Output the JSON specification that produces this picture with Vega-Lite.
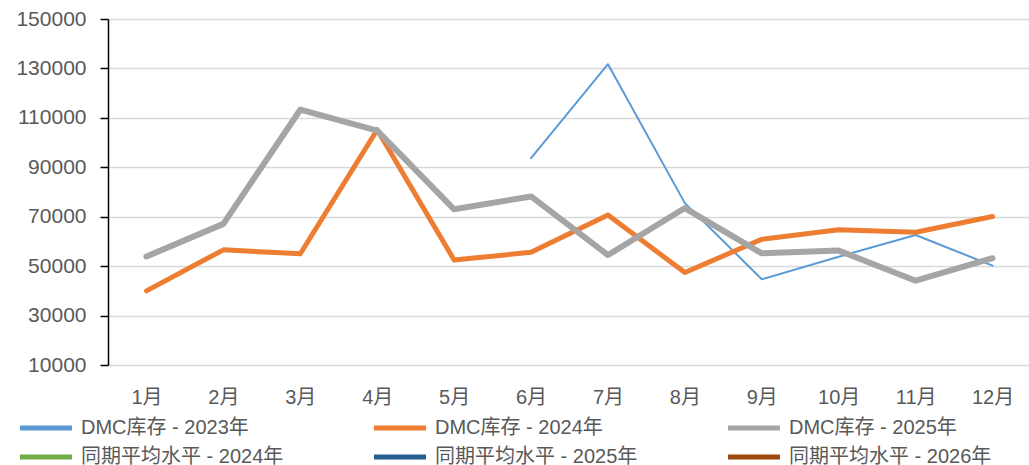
{
  "$schema": "https://vega.github.io/schema/vega-lite/v6.json",
  "autosize": {"type": "none"},
  "padding": {"left": 108, "top": 19, "right": 0, "bottom": 100},
  "width": 923,
  "height": 346,
  "background": "white",
  "config": {
    "view": {"stroke": null},
    "font": "Liberation Sans, Noto Sans CJK SC"
  },
  "data": {
    "values": [
      {"month": "6月", "series": "DMC库存 - 2023年", "value": 93700},
      {"month": "7月", "series": "DMC库存 - 2023年", "value": 131700},
      {"month": "8月", "series": "DMC库存 - 2023年", "value": 75500},
      {"month": "9月", "series": "DMC库存 - 2023年", "value": 44700},
      {"month": "10月", "series": "DMC库存 - 2023年", "value": 53800},
      {"month": "11月", "series": "DMC库存 - 2023年", "value": 62600},
      {"month": "12月", "series": "DMC库存 - 2023年", "value": 50200},
      {"month": "1月", "series": "DMC库存 - 2024年", "value": 40000},
      {"month": "2月", "series": "DMC库存 - 2024年", "value": 56600},
      {"month": "3月", "series": "DMC库存 - 2024年", "value": 55000},
      {"month": "4月", "series": "DMC库存 - 2024年", "value": 105200},
      {"month": "5月", "series": "DMC库存 - 2024年", "value": 52500},
      {"month": "6月", "series": "DMC库存 - 2024年", "value": 55600},
      {"month": "7月", "series": "DMC库存 - 2024年", "value": 70700},
      {"month": "8月", "series": "DMC库存 - 2024年", "value": 47400},
      {"month": "9月", "series": "DMC库存 - 2024年", "value": 60900},
      {"month": "10月", "series": "DMC库存 - 2024年", "value": 64700},
      {"month": "11月", "series": "DMC库存 - 2024年", "value": 63700},
      {"month": "12月", "series": "DMC库存 - 2024年", "value": 70100},
      {"month": "1月", "series": "DMC库存 - 2025年", "value": 53900},
      {"month": "2月", "series": "DMC库存 - 2025年", "value": 67100},
      {"month": "3月", "series": "DMC库存 - 2025年", "value": 113300},
      {"month": "4月", "series": "DMC库存 - 2025年", "value": 104800},
      {"month": "5月", "series": "DMC库存 - 2025年", "value": 73000},
      {"month": "6月", "series": "DMC库存 - 2025年", "value": 78200},
      {"month": "7月", "series": "DMC库存 - 2025年", "value": 54500},
      {"month": "8月", "series": "DMC库存 - 2025年", "value": 73500},
      {"month": "9月", "series": "DMC库存 - 2025年", "value": 55200},
      {"month": "10月", "series": "DMC库存 - 2025年", "value": 56300},
      {"month": "11月", "series": "DMC库存 - 2025年", "value": 44100},
      {"month": "12月", "series": "DMC库存 - 2025年", "value": 53200}
    ]
  },
  "mark": {"type": "line", "strokeCap": "round", "strokeJoin": "round"},
  "encoding": {
    "x": {
      "field": "month",
      "type": "ordinal",
      "sort": ["1月","2月","3月","4月","5月","6月","7月","8月","9月","10月","11月","12月"],
      "scale": {"type": "point", "padding": 0.5},
      "axis": {
        "title": null,
        "domain": false,
        "ticks": false,
        "grid": false,
        "labelAngle": 0,
        "labelFontSize": 20,
        "labelColor": "#595959",
        "labelPadding": 22,
        "labelBaseline": "top"
      }
    },
    "y": {
      "field": "value",
      "type": "quantitative",
      "scale": {"domain": [10000, 150000], "nice": false, "zero": false},
      "axis": {
        "title": null,
        "format": "d",
        "values": [10000, 30000, 50000, 70000, 90000, 110000, 130000, 150000],
        "domain": true,
        "domainColor": "#000000",
        "domainWidth": 1.5,
        "ticks": true,
        "tickColor": "#000000",
        "tickSize": 8,
        "tickWidth": 1.5,
        "grid": true,
        "gridColor": "#D9D9D9",
        "gridWidth": 1.5,
        "labelFontSize": 21,
        "labelColor": "#595959",
        "labelPadding": 14
      }
    },
    "color": {
      "field": "series",
      "type": "nominal",
      "scale": {
        "domain": ["DMC库存 - 2023年", "DMC库存 - 2024年", "DMC库存 - 2025年", "同期平均水平 - 2024年", "同期平均水平 - 2025年", "同期平均水平 - 2026年"],
        "range": ["#5B9BD5", "#ED7D31", "#A5A5A5", "#70AD47", "#255E91", "#9E480E"]
      },
      "legend": {
        "title": null,
        "orient": "none",
        "legendX": -72,
        "legendY": 399,
        "direction": "horizontal",
        "columns": 3,
        "gridAlign": "all",
        "columnPadding": 80,
        "rowPadding": 9,
        "symbolType": "M-4,0H4",
        "symbolSize": 169,
        "symbolStrokeWidth": 5,
        "symbolStrokeCap": "round",
        "labelFontSize": 20,
        "labelColor": "#595959",
        "labelOffset": 25,
        "labelLimit": 400
      }
    },
    "strokeWidth": {
      "field": "series",
      "type": "nominal",
      "scale": {
        "type": "ordinal",
        "domain": ["DMC库存 - 2023年", "DMC库存 - 2024年", "DMC库存 - 2025年"],
        "range": [2, 5, 6]
      },
      "legend": null
    }
  }
}
